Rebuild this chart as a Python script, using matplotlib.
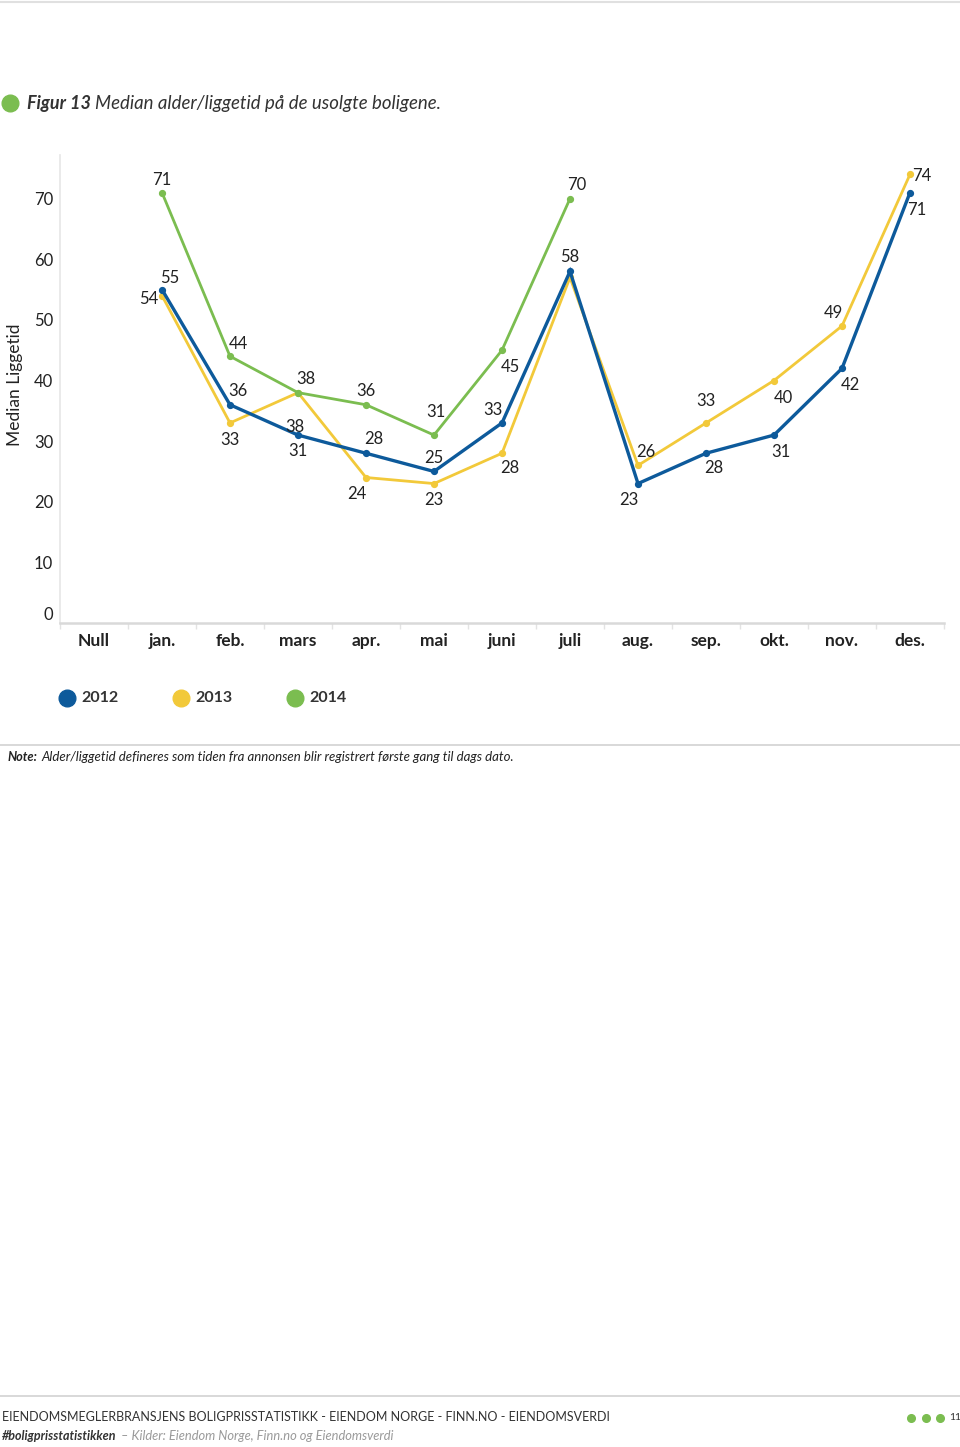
import matplotlib
matplotlib.use("Agg")
import matplotlib.pyplot as plt
import matplotlib.transforms as mtransforms

plt.rcParams['font.family'] = ['Lato', 'DejaVu Sans']

categories = ["Null", "jan.", "feb.", "mars", "apr.", "mai", "juni", "juli",
              "aug.", "sep.", "okt.", "nov.", "des."]
years = ["2012", "2013", "2014"]
v2012 = [None, 55, 36, 31, 28, 25, 33, 58, 23, 28, 31, 42, 71]
v2013 = [None, 54, 33, 38, 24, 23, 28, 57, 26, 33, 40, 49, 74]
v2014 = [None, 71, 44, 38, 36, 31, 45, 70, None, None, None, None, None]
yticks = [0, 10, 20, 30, 40, 50, 60, 70]

# label offsets in pixels (dx, dy) – styling only; None = no label
off2012 = [None, (8, 12), (8, 14), (0, -16), (8, 14), (0, 13), (-9, 13), (0, 14),
           (-9, -16), (8, -15), (7, -17), (8, -17), (7, -17)]
off2013 = [None, (-13, -3), (0, -17), (-3, -34), (-9, -16), (0, -16), (8, -15), None,
           (8, 13), (0, 22), (9, -17), (-9, 13), (12, -2)]
off2014 = [None, (0, 13), (8, 12), (8, 14), (0, 14), (2, 23), (8, -17), (7, 14),
           None, None, None, None, None]

c2012 = '#0d5a9b'
c2013 = '#f2c93a'
c2014 = '#7bbd50'
grey_line = '#d9d9d9'

W, H = 960, 1447
fig = plt.figure(figsize=(W / 100, H / 100), dpi=100)

ax_l, ax_r, ax_t, ax_b = 60, 944, 155, 623
ax = fig.add_axes([ax_l / W, 1 - ax_b / H, (ax_r - ax_l) / W, (ax_b - ax_t) / H])
ax.set_xlim(-0.5, len(categories) - 0.5)
ax.set_ylim(0, 77.2)

xs = list(range(len(categories)))

def plot_series(vals, color, lw, offs):
    px = [x for x, v in zip(xs, vals) if v is not None]
    py = [v for v in vals if v is not None]
    ax.plot(px, py, color=color, lw=lw, marker='o', ms=4.2, mec=color, mfc=color,
            solid_joinstyle='miter', zorder=3)
    for x, v, o in zip(xs, vals, offs):
        if v is None or o is None:
            continue
        t = mtransforms.offset_copy(ax.transData, fig=fig, x=o[0], y=o[1], units='dots')
        ax.text(x, v, str(v), transform=t, ha='center', va='center',
                fontsize=12, color='#222222', zorder=5)

plot_series(v2013, c2013, 2.0, off2013)
plot_series(v2014, c2014, 2.0, off2014)
plot_series(v2012, c2012, 2.4, off2012)

for s in ['top', 'right']:
    ax.spines[s].set_visible(False)
ax.spines['left'].set_color('#e6e6e6')
ax.spines['left'].set_linewidth(1.2)
ax.spines['bottom'].set_color(grey_line)
ax.spines['bottom'].set_linewidth(1.8)

ax.set_xticks(xs)
ax.set_xticklabels(categories, fontsize=12.5, fontweight='bold', color='#222222')
ax.set_xticks([x - 0.5 for x in xs] + [len(xs) - 0.5], minor=True)
ax.tick_params(axis='x', which='major', length=0, pad=7.5)
ax.tick_params(axis='x', which='minor', length=4, color='#e3e3e3', width=1)
ax.set_yticks(yticks)
ax.set_yticklabels([str(v) for v in yticks], fontsize=12, color='#222222')
ax.tick_params(axis='y', length=0, pad=5)
# lift the zero label a little as in the reference
lbl0 = ax.get_yticklabels()[0]
lbl0.set_transform(lbl0.get_transform() + mtransforms.ScaledTranslation(0, 10 / 100, fig.dpi_scale_trans))

fig.text(15 / W, 1 - 385 / H, "Median Liggetid", rotation=90, ha='center', va='center',
         fontsize=12.5, color='#222222')

# top rule
fig.add_artist(plt.Line2D([0, 1], [1 - 1.5 / H, 1 - 1.5 / H], color='#e0e0e0', lw=1.5))

def dot(xpx, ypx, size, col):
    fig.add_artist(plt.Line2D([xpx / W], [1 - ypx / H], marker='o', ms=size, color=col,
                              mec=col, transform=fig.transFigure, linestyle='none'))

# title
dot(10, 103, 12, c2014)
fig.text(27 / W, 1 - 103 / H, "Figur 13", fontsize=13, fontweight='bold', style='italic',
         color='#333333', ha='left', va='center')
fig.text(95 / W, 1 - 103 / H, "Median alder/liggetid på de usolgte boligene.", fontsize=13.4,
         style='italic', color='#333333', ha='left', va='center')

# legend
for cx, col, lab in [(67, c2012, years[0]), (181, c2013, years[1]), (295, c2014, years[2])]:
    dot(cx, 698, 12, col)
    fig.text((cx + 14) / W, 1 - 698 / H, lab, fontsize=11.5, fontweight='bold',
             color='#333333', ha='left', va='center')

# note
fig.add_artist(plt.Line2D([0, 1], [1 - 745 / H, 1 - 745 / H], color='#d6d6d6', lw=1.3))
fig.text(8 / W, 1 - 757 / H, "Note:", fontsize=9.2, fontweight='bold', style='italic',
         color='#222222', ha='left', va='center')
fig.text(41 / W, 1 - 757 / H,
         "Alder/liggetid defineres som tiden fra annonsen blir registrert første gang til dags dato.",
         fontsize=9.5, style='italic', color='#222222', ha='left', va='center')

# footer
fig.add_artist(plt.Line2D([0, 1], [1 - 1396 / H, 1 - 1396 / H], color='#d6d6d6', lw=1.3))
fig.text(2 / W, 1 - 1417 / H,
         "EIENDOMSMEGLERBRANSJENS BOLIGPRISSTATISTIKK - EIENDOM NORGE - FINN.NO - EIENDOMSVERDI",
         fontsize=9, color='#333333', ha='left', va='center')
fig.text(2 / W, 1 - 1436 / H, "#boligprisstatistikken", fontsize=9, style='italic',
         fontweight='bold', color='#333333', ha='left', va='center')
fig.text(121 / W, 1 - 1436 / H, "– Kilder: Eiendom Norge, Finn.no og Eiendomsverdi",
         fontsize=9.3, style='italic', color='#9a9a9a', ha='left', va='center')
for cx in [911, 926, 940]:
    dot(cx, 1418, 5.5, c2014)
fig.text(955 / W, 1 - 1418 / H, "11", fontsize=7.5, color='#333333', ha='center', va='center')

fig.savefig("out.png", dpi=100)
